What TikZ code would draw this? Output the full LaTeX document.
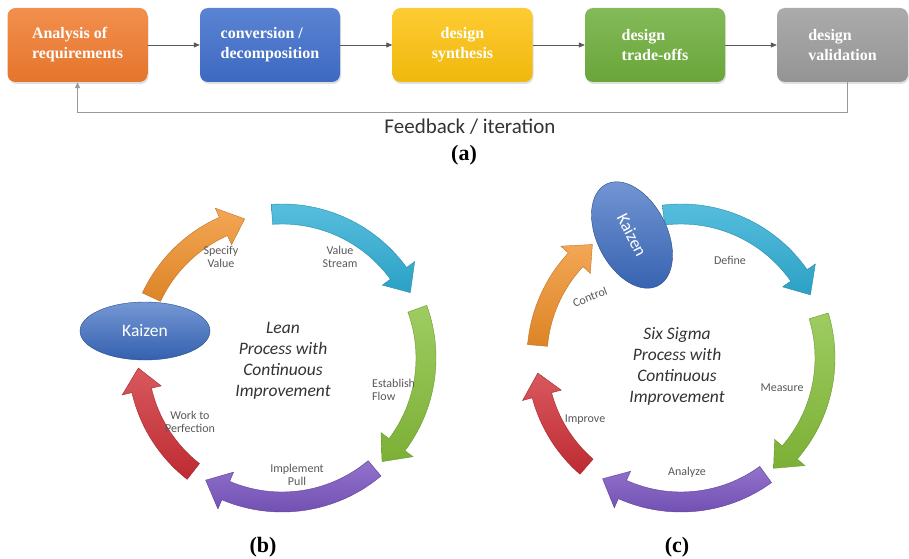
\documentclass[tikz,border=0pt]{standalone}
\usepackage{fontspec}
\setmainfont{Carlito}
\newfontfamily\timesfont{Liberation Serif}
\usetikzlibrary{shapes.geometric, arrows.meta, shadows}

\definecolor{stageorange}{HTML}{F07B2E}
\definecolor{stageblue}{HTML}{3F6ECB}
\definecolor{stageyellow}{HTML}{FDC20E}
\definecolor{stagegreen}{HTML}{6EAE3C}
\definecolor{stagegray}{HTML}{9C9C9C}
\definecolor{cycorange}{HTML}{F0902A}
\definecolor{cyccyan}{HTML}{2FAFD6}
\definecolor{cycgreen}{HTML}{86BF3A}
\definecolor{cycpurple}{HTML}{7650BE}
\definecolor{cycred}{HTML}{CE2F36}
\definecolor{kaizenblue}{HTML}{3A6BC2}

\newcommand{\cyclearrow}[3]{%
  \path[top color=#1!80!white, bottom color=#1!92!black, draw=#1!80!black, line width=0.4pt]
    (#2:154pt) arc[start angle=#2, end angle={#3+9}, radius=154pt]
    -- ({#3+9}:164pt) -- (#3:144pt) -- ({#3+9}:124pt) -- ({#3+9}:134pt)
    arc[start angle={#3+9}, end angle=#2, radius=134pt] -- cycle;}

\begin{document}
\begin{tikzpicture}[x=1pt, y=1pt,
    stage/.style={rounded corners=8pt, minimum width=140pt, minimum height=74pt, align=left,
      text=white, font=\timesfont\bfseries\fontsize{16}{20}\selectfont,
      drop shadow={opacity=0.25, shadow xshift=1pt, shadow yshift=-2pt}},
    flow/.style={-{Triangle[length=6pt, width=5pt]}, draw=black!65, line width=0.8pt},
    fback/.style={-{Triangle[length=6pt, width=5pt]}, draw=black!40, line width=1pt},
    figcap/.style={font=\timesfont\bfseries\fontsize{22}{24}\selectfont},
    lbl/.style={font=\fontsize{12}{12.5}\selectfont, text=black!65, align=center, inner sep=0pt},
    core/.style={font=\fontsize{17.5}{21}\selectfont\itshape, text=black!80, align=center},
    kaizen/.style={ellipse, top color=kaizenblue!70!white, bottom color=kaizenblue!90!black,
      draw=kaizenblue!70!black, text=white, font=\fontsize{17.5}{20}\selectfont,
      minimum width=130pt, minimum height=58pt}
  ]
  \fill[white] (0,0) rectangle (909,558);
  \useasboundingbox (0,0) rectangle (909,558);

  \node[stage, top color=stageorange!85!white, bottom color=stageorange!95!black] (analysis) at (77.5,513) {Analysis of\\requirements};
  \node[stage, top color=stageblue!85!white, bottom color=stageblue!95!black] (conversion) at (270,513) {conversion /\\decomposition};
  \node[stage, align=center, top color=stageyellow!85!white, bottom color=stageyellow!95!black] (synthesis) at (462.5,513) {design\\synthesis};
  \node[stage, top color=stagegreen!85!white, bottom color=stagegreen!95!black] (tradeoffs) at (655,513) {design\\trade-offs};
  \node[stage, minimum width=131pt, top color=stagegray!85!white, bottom color=stagegray!95!black] (validation) at (842.5,513) {design\\validation};
  \draw[flow] (analysis) -- (conversion);
  \draw[flow] (conversion) -- (synthesis);
  \draw[flow] (synthesis) -- (tradeoffs);
  \draw[flow] (tradeoffs) -- (validation);
  \coordinate (fbR) at (847,445);
  \coordinate (fbL) at (77.5,445);
  \draw[fback] ([xshift=4.5pt]validation.south) -- (fbR) -- (fbL) -- (analysis.south);
  \node[font=\fontsize{21}{24}\selectfont, text=black!80] (feedback) at (470,431) {Feedback / iteration};
  \node[figcap] (capa) at (464,403) {(a)};

  \begin{scope}[shift={(282,200)}]
    \cyclearrow{cycorange}{155}{105}
    \cyclearrow{cyccyan}{94}{27}
    \cyclearrow{cycgreen}{20}{-46}
    \cyclearrow{cycpurple}{-50}{-122}
    \cyclearrow{cycred}{232}{184}
  \end{scope}
  \node[kaizen] (kaizenL) at (145,227) {Kaizen};
  \node[lbl] (specify) at (221,301) {Specify\\Value};
  \node[lbl] (stream) at (340,301) {Value\\Stream};
  \node[lbl, align=left, anchor=west] (flowlbl) at (372,168) {Establish\\Flow};
  \node[lbl] (pull) at (297,83) {Implement\\Pull};
  \node[lbl] (perfection) at (190,136) {Work to\\Perfection};
  \node[core] (leantext) at (283,197) {Lean\\Process with\\Continuous\\Improvement};
  \node[figcap] (capb) at (263,11) {(b)};

  \begin{scope}[shift={(681,200)}]
    \cyclearrow{cyccyan}{97}{26}
    \cyclearrow{cycgreen}{17}{-50}
    \cyclearrow{cycpurple}{-54}{-123}
    \cyclearrow{cycred}{229}{186}
    \cyclearrow{cycorange}{175}{128}
  \end{scope}
  \node[kaizen, minimum width=114pt, minimum height=70pt, rotate=-63] (kaizenS) at (632,323) {Kaizen};
  \node[lbl] (define) at (730,298) {Define};
  \node[lbl] (measure) at (782,170) {Measure};
  \node[lbl] (analyze) at (687,86) {Analyze};
  \node[lbl] (improve) at (585,138) {Improve};
  \node[lbl, rotate=22] (control) at (590,261) {Control};
  \node[core] (sigmatext) at (677,192) {Six Sigma\\Process with\\Continuous\\Improvement};
  \node[figcap] (capc) at (677,11) {(c)};
\end{tikzpicture}
\end{document}
